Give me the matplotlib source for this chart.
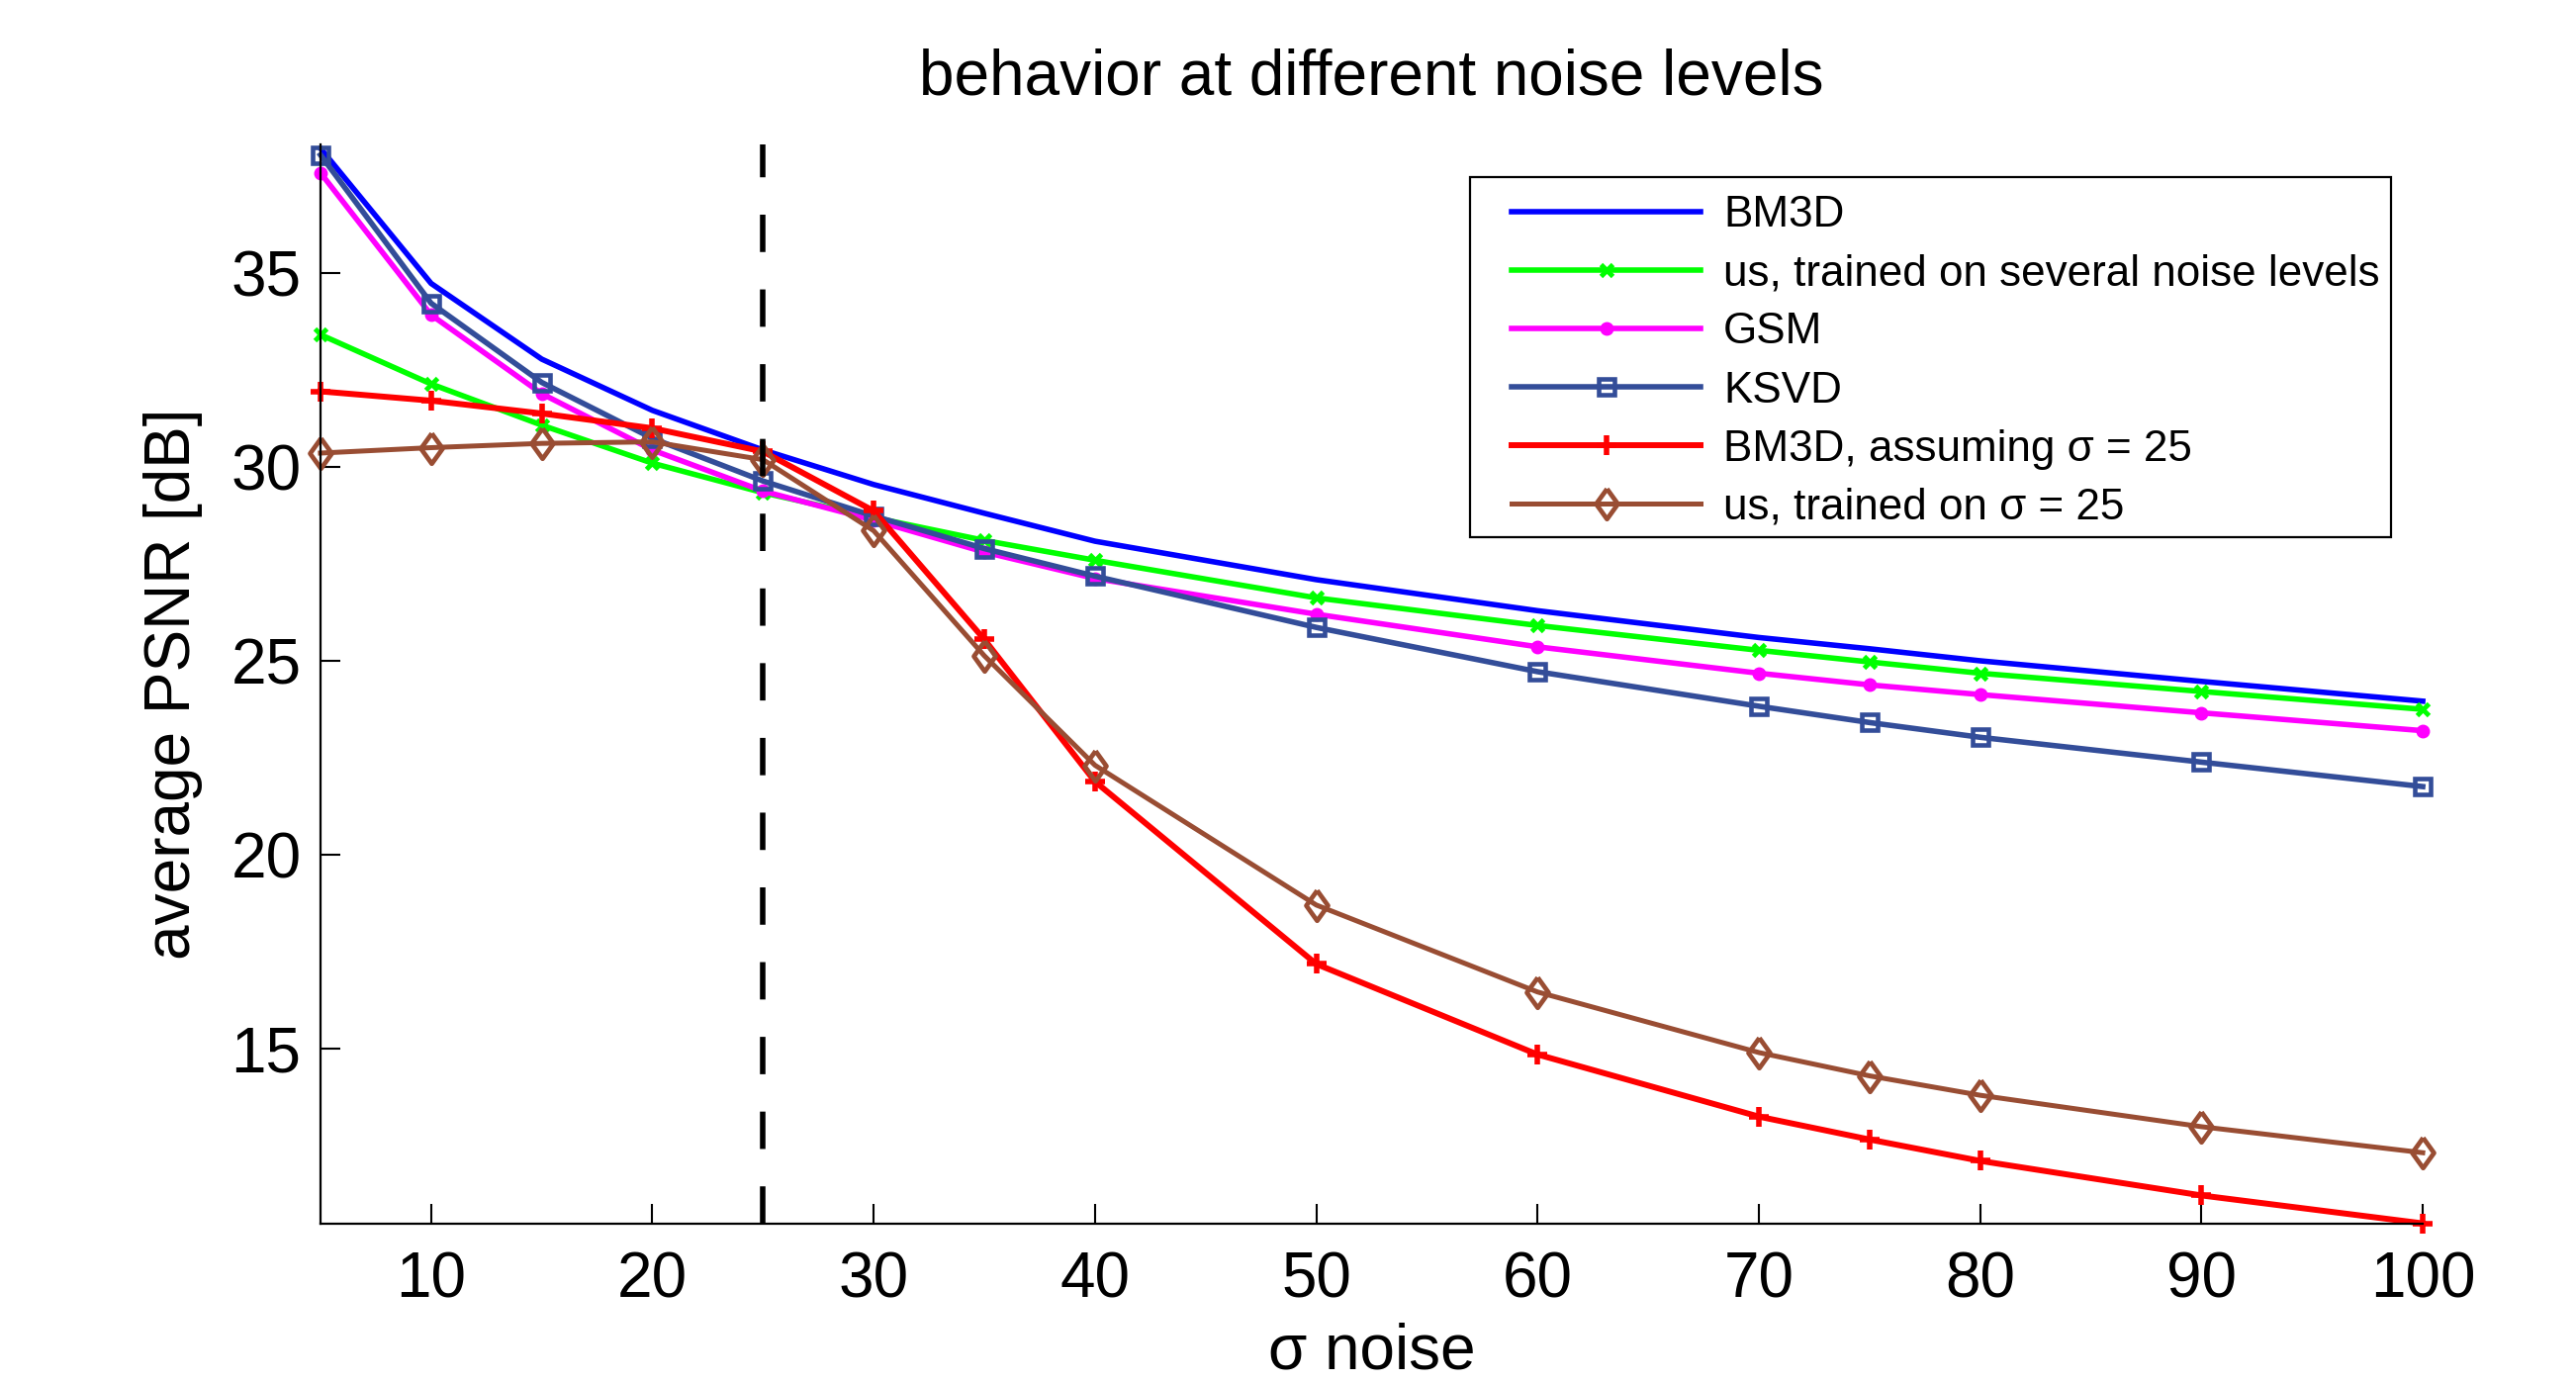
import matplotlib
matplotlib.use('Agg')
import matplotlib.pyplot as plt
from matplotlib.patches import Rectangle

# ---- data ----
sigma = [5, 10, 15, 20, 25, 30, 35, 40, 50, 60, 70, 75, 80, 90, 100]
bm3d = [38.2, 34.72, 32.77, 31.45, 30.43, 29.54, 28.80, 28.08, 27.09, 26.29, 25.60, 25.31, 25.00, 24.47, 23.96]
us_multi = [33.40, 32.13, 31.07, 30.09, 29.33, 28.69, 28.10, 27.59, 26.62, 25.91, 25.27, 24.97, 24.68, 24.21, 23.75]
gsm = [37.57, 33.91, 31.88, 30.43, 29.37, 28.62, 27.80, 27.12, 26.20, 25.36, 24.68, 24.38, 24.13, 23.66, 23.20]
ksvd = [38.03, 34.21, 32.17, 30.73, 29.63, 28.73, 27.89, 27.18, 25.86, 24.72, 23.83, 23.41, 23.03, 22.39, 21.76]
bm3d_25 = [31.94, 31.70, 31.37, 30.99, 30.39, 28.86, 25.55, 21.89, 17.19, 14.86, 13.26, 12.67, 12.12, 11.23, 10.51]
us_25 = [30.35, 30.49, 30.60, 30.64, 30.18, 28.35, 25.13, 22.31, 18.71, 16.47, 14.91, 14.31, 13.81, 13.00, 12.33]

labels = ['BM3D', 'us, trained on several noise levels', 'GSM', 'KSVD',
          'BM3D, assuming σ = 25', 'us, trained on σ = 25']
xticks = [10, 20, 30, 40, 50, 60, 70, 80, 90, 100]
yticks = [15, 20, 25, 30, 35]
train_sigma = 25

plt.rcParams['font.family'] = ['Liberation Sans', 'DejaVu Sans']

fig = plt.figure(figsize=(26.04, 13.97), dpi=100)
ax = fig.add_axes([0.1244, 0.1145, 0.8161, 0.781])

diamond = [(0, 1), (0.72, 0), (0, -1), (-0.72, 0), (0, 1)]

lw = 4.0
h1, = ax.plot(sigma, bm3d, color='#0000ff', lw=lw, clip_on=False)
h2, = ax.plot(sigma, us_multi, color='#00ff00', lw=lw, marker='x', ms=9, mew=3.5, clip_on=False)
h3, = ax.plot(sigma, gsm, color='#ff00ff', lw=lw, marker='o', ms=9, mfc='#ff00ff', mec='#ff00ff', clip_on=False)
h4, = ax.plot(sigma, ksvd, color='#334d99', lw=lw, marker='s', ms=11, mew=3.3, mfc='none', clip_on=False)
h5, = ax.plot(sigma, bm3d_25, color='#ff0000', lw=4.3, marker='+', ms=14, mew=4, clip_on=False)
h6, = ax.plot(sigma, us_25, color='#994d33', lw=3.6, marker=diamond, ms=22, mew=3.4, mfc='none', clip_on=False)

ax.axvline(train_sigma, color='black', lw=4, linestyle=(0, (6.8, 6.8)), zorder=3)

ax.set_xlim(5, 100)
ax.set_ylim(10.5, 38.3)
ax.set_xticks(xticks)
ax.set_yticks(yticks)
for s in ['top', 'right']:
    ax.spines[s].set_visible(False)
for s in ['left', 'bottom']:
    ax.spines[s].set_linewidth(1.6)
ax.tick_params(direction='in', length=14.4, width=1.5, labelsize=46)
ax.tick_params(axis='y', pad=14)
ax.tick_params(axis='x', pad=20)

ax.set_title('behavior at different noise levels', fontsize=46, pad=36)
ax.set_xlabel('σ noise', fontsize=46)
ax.set_ylabel('average PSNR [dB]', fontsize=46)
ax.xaxis.set_label_coords(0.5, -0.091)
ax.yaxis.set_label_coords(-0.056, 0.5)

# legend frame
frame = Rectangle((0.5707, 0.6113), 0.3575, 0.2606, transform=fig.transFigure,
                  facecolor='white', edgecolor='black', lw=1.6, zorder=4)
ax.add_patch(frame)
leg = ax.legend([h1, h2, h3, h4, h5, h6], labels, loc='upper left',
                bbox_to_anchor=(0.5868, 0.8587), bbox_transform=fig.transFigure,
                frameon=False, fontsize=31.7, handlelength=4.34, handletextpad=0.52,
                labelspacing=0.41, borderpad=0, borderaxespad=0, numpoints=1)
leg.set_zorder(5)

fig.savefig('out.png', dpi=100)
